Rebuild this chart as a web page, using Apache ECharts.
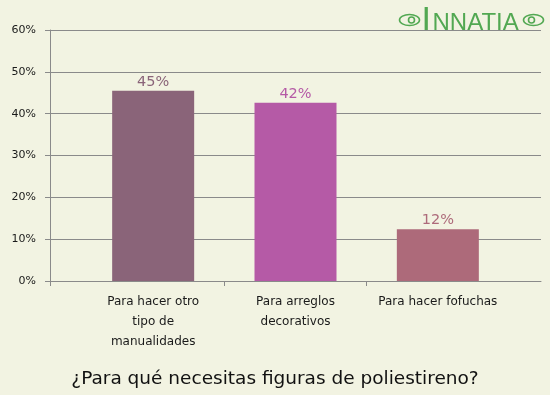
<!DOCTYPE html>
<html>
<head>
<meta charset="utf-8">
<script src="https://cdn.jsdelivr.net/npm/echarts@6/dist/echarts.min.js"></script>
<style>
html,body{margin:0;padding:0;background:#f2f3e2;}
#chart{width:550px;height:395px;}
</style>
</head>
<body>
<div id="chart"></div>
<script>
var categories = ['Para hacer otro\ntipo de\nmanualidades', 'Para arreglos\ndecorativos', 'Para hacer fofuchas'];
var values = [45.5, 42.6, 12.4];
var valueLabels = ['45%', '42%', '12%'];
var barColors = ['#8a6479', '#b55aa6', '#ad6a7a'];
var yTicks = [0, 10, 20, 30, 40, 50, 60];
var titleText = '¿Para qué necesitas figuras de poliestireno?';

var chart = echarts.init(document.getElementById('chart'), null, {renderer: 'canvas'});
var gridTop = 30, gridBottom = 114;
var option = {
  backgroundColor: '#f2f3e2',
  animation: false,
  textStyle: {fontFamily: 'DejaVu Sans'},
  grid: [
    {left: 50, right: 9, top: gridTop, bottom: gridBottom},
    {left: 82, right: 41, top: gridTop, bottom: gridBottom}
  ],
  xAxis: [
    {
      gridIndex: 0, type: 'value', min: -0.723, max: 2.723,
      axisLine: {show: true, onZero: false, lineStyle: {color: '#8a8a8a', width: 1}},
      axisTick: {show: true, length: 5, customValues: [-0.723, 0.5, 1.5], lineStyle: {color: '#8a8a8a'}},
      axisLabel: {show: false},
      splitLine: {show: false}
    },
    {
      gridIndex: 1, type: 'category', data: categories,
      axisLine: {show: false}, axisTick: {show: false},
      axisLabel: {margin: 11, fontSize: 12, lineHeight: 20, color: '#1a1a1a', fontFamily: 'DejaVu Sans', interval: 0},
      splitLine: {show: false}
    }
  ],
  yAxis: [
    {
      gridIndex: 0, type: 'value', min: yTicks[0], max: yTicks[yTicks.length - 1], interval: 10,
      axisLine: {show: true, onZero: false, lineStyle: {color: '#8a8a8a', width: 1}},
      axisTick: {show: true, length: 5, lineStyle: {color: '#8a8a8a'}},
      axisLabel: {margin: 14, fontSize: 11, color: '#1a1a1a', fontFamily: 'DejaVu Sans', formatter: '{value}%'},
      splitLine: {show: true, lineStyle: {color: '#8a8a8a', width: 1}}
    },
    {
      gridIndex: 1, type: 'value', min: yTicks[0], max: yTicks[yTicks.length - 1],
      show: false, splitLine: {show: false}
    }
  ],
  series: [{
    type: 'bar',
    xAxisIndex: 1, yAxisIndex: 1,
    barWidth: 82,
    data: values.map(function (v, i) {
      return {
        value: v,
        itemStyle: {color: barColors[i]},
        label: {color: barColors[i]}
      };
    }),
    label: {
      show: true, position: 'top', distance: 1,
      fontSize: 14.5, fontFamily: 'DejaVu Sans',
      formatter: function (p) { return valueLabels[p.dataIndex]; }
    }
  }],
  graphic: [
    {
      type: 'text', left: 'center', top: 370,
      style: {text: titleText, fontSize: 18.5, fontFamily: 'DejaVu Sans', fill: '#111', textAlign: 'center'}
    },
    {
      type: 'group', left: 397, top: 4,
      children: [
        {type: 'ellipse', shape: {cx: 11, cy: 17, rx: 10, ry: 5.5}, style: {fill: 'none', stroke: '#52a852', lineWidth: 1.6}},
        {type: 'circle', shape: {cx: 13, cy: 17, r: 3}, style: {fill: 'none', stroke: '#52a852', lineWidth: 1.6}},
        {type: 'text', x: 23, y: 1, style: {text: 'I', fontSize: 34, fontFamily: 'Liberation Sans', fill: '#52a852'}},
        {type: 'text', x: 34, y: 8, style: {text: 'NNATIA', fontSize: 24, fontFamily: 'Liberation Sans', fill: '#52a852'}},
        {type: 'ellipse', shape: {cx: 135, cy: 17, rx: 10, ry: 5.5}, style: {fill: 'none', stroke: '#52a852', lineWidth: 1.6}},
        {type: 'circle', shape: {cx: 133, cy: 17, r: 3}, style: {fill: 'none', stroke: '#52a852', lineWidth: 1.6}}
      ]
    }
  ]
};
chart.setOption(option);
</script>
</body>
</html>
